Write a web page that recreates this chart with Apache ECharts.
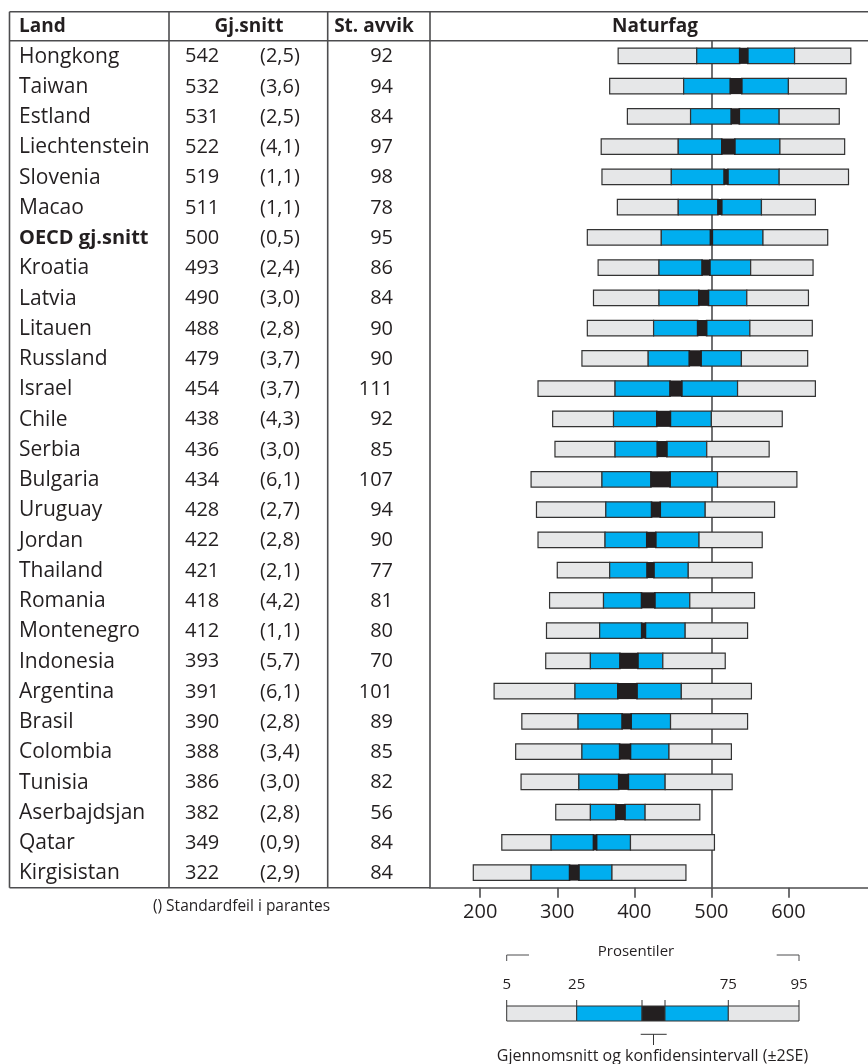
<!DOCTYPE html>
<html><head><meta charset="utf-8">
<script src="https://cdn.jsdelivr.net/npm/echarts@6/dist/echarts.min.js"></script>
<style>html,body{margin:0;padding:0;background:#fff}#c{width:868px;height:1064px}</style>
</head><body><div id="c"></div>
<script>
// ---- data ----
const countries = ['Hongkong','Taiwan','Estland','Liechtenstein','Slovenia','Macao','OECD gj.snitt','Kroatia','Latvia','Litauen','Russland','Israel','Chile','Serbia','Bulgaria','Uruguay','Jordan','Thailand','Romania','Montenegro','Indonesia','Argentina','Brasil','Colombia','Tunisia','Aserbajdsjan','Qatar','Kirgisistan'];
const means = [542,532,531,522,519,511,500,493,490,488,479,454,438,436,434,428,422,421,418,412,393,391,390,388,386,382,349,322];
const stdErr = [2.5,3.6,2.5,4.1,1.1,1.1,0.5,2.4,3.0,2.8,3.7,3.7,4.3,3.0,6.1,2.7,2.8,2.1,4.2,1.1,5.7,6.1,2.8,3.4,3.0,2.8,0.9,2.9];
const stdDev = [92,94,84,97,98,78,95,86,84,90,90,111,92,85,107,94,90,77,81,80,70,101,89,85,82,56,84,84];
const p5  = [379,368,391,357,358,378,339,353,347,339,332,275,294,297,266,273,275,300,290,286,285,218,254,246,253,298,228,191];
const p25 = [481,464,473,457,448,457,435,432,432,425,418,375,373,375,358,363,362,368,360,355,343,323,327,332,328,343,292,266];
const p75 = [608,600,588,589,588,565,567,551,546,550,539,534,500,494,508,492,484,470,472,466,437,461,447,445,440,414,395,371];
const p95 = [681,675,666,673,678,635,651,632,626,631,625,635,592,575,611,582,566,553,556,547,518,552,547,526,527,485,504,467];
const ticks = [200,300,400,500,600];
const boldRow = 'OECD gj.snitt';

// ---- styles ----
const FONT = 'Open Sans';
const TXT = '#231f20';
const LINE = '#4d4d4f';
const GREY = '#e6e7e8', BLUE = '#00aeef', BLACK = '#231f20', EDGE = '#333333';

const fmt = v => '(' + v.toFixed(1).replace('.', ',') + ')';

const barData = countries.map((c, i) => [i, p5[i], p25[i], means[i] - 2 * stdErr[i], means[i] + 2 * stdErr[i], p75[i], p95[i]]);
const tableData = countries.map((c, i) => [i]);

const chart = echarts.init(document.getElementById('c'), null, {renderer: 'canvas'});

function seg(x0, x1, y, h, fill, stroke, lw) {
  return {type: 'rect', shape: {x: x0, y: y - h / 2, width: x1 - x0, height: h},
    style: {fill: fill, stroke: stroke, lineWidth: lw}};
}

const graphics = [];
// table frame
const L = 9.5, R = 868, T = 11.7, HB = 40.7, B = 887.7;
const cols = [169, 327.7, 430];
graphics.push({type: 'line', shape: {x1: L, y1: T, x2: R, y2: T}, style: {stroke: LINE, lineWidth: 1.6}});
graphics.push({type: 'line', shape: {x1: L, y1: HB, x2: R, y2: HB}, style: {stroke: LINE, lineWidth: 1.6}});
graphics.push({type: 'line', shape: {x1: L, y1: T, x2: L, y2: B}, style: {stroke: LINE, lineWidth: 1.6}});
graphics.push({type: 'line', shape: {x1: L, y1: B, x2: 430, y2: B}, style: {stroke: LINE, lineWidth: 1.6}});
cols.forEach(x => graphics.push({type: 'line', shape: {x1: x, y1: T, x2: x, y2: B}, style: {stroke: LINE, lineWidth: 1.6}}));
// headers
const hy = 26.5;
[['Land', 19, 'left'], ['Gj.snitt', 249, 'center'], ['St. avvik', 374, 'center'], ['Naturfag', 655, 'center']].forEach(h => {
  graphics.push({type: 'text', x: h[1], y: hy, style: {text: h[0], fill: TXT, font: 'bold 19px "' + FONT + '"', textAlign: h[2], textVerticalAlign: 'middle'}});
});
// footnote
graphics.push({type: 'text', x: 241.5, y: 906.5, style: {text: '() Standardfeil i parantes', fill: TXT, font: '15.5px "' + FONT + '"', textAlign: 'center', textVerticalAlign: 'middle'}});
// legend key
const lg = {x5: 506.7, x25: 576.7, xl: 642, xh: 665, x75: 728.3, x95: 799, y: 1006, h: 15};
graphics.push({type: 'text', x: 636, y: 951.5, style: {text: 'Prosentiler', fill: TXT, font: '15px "' + FONT + '"', textAlign: 'center', textVerticalAlign: 'middle'}});
graphics.push({type: 'polyline', shape: {points: [[lg.x5, 961], [lg.x5, 955], [529, 955]]}, style: {stroke: LINE, lineWidth: 1, fill: null}});
graphics.push({type: 'polyline', shape: {points: [[776.7, 955], [lg.x95, 955], [lg.x95, 961]]}, style: {stroke: LINE, lineWidth: 1, fill: null}});
[['5', lg.x5], ['25', lg.x25], ['75', lg.x75], ['95', lg.x95]].forEach(t => {
  graphics.push({type: 'text', x: t[1], y: 985, style: {text: t[0], fill: TXT, font: '15px "' + FONT + '"', textAlign: 'center', textVerticalAlign: 'middle'}});
});
[[lg.x5, lg.x25, GREY], [lg.x25, lg.xl, BLUE], [lg.xl, lg.xh, BLACK], [lg.xh, lg.x75, BLUE], [lg.x75, lg.x95, GREY]].forEach(s => {
  graphics.push({type: 'rect', shape: {x: s[0], y: lg.y, width: s[1] - s[0], height: lg.h}, style: {fill: s[2], stroke: EDGE, lineWidth: 1}});
});
[lg.x5, lg.x25, lg.xl, lg.xh, lg.x75, lg.x95].forEach(x => {
  graphics.push({type: 'line', shape: {x1: x, y1: 1000, x2: x, y2: lg.y}, style: {stroke: EDGE, lineWidth: 1}});
});
graphics.push({type: 'line', shape: {x1: 640.7, y1: 1034.3, x2: 666.7, y2: 1034.3}, style: {stroke: EDGE, lineWidth: 1}});
graphics.push({type: 'line', shape: {x1: 653.5, y1: 1034.3, x2: 653.5, y2: 1045}, style: {stroke: EDGE, lineWidth: 1}});
graphics.push({type: 'text', x: 652.5, y: 1056.5, style: {text: 'Gjennomsnitt og konfidensintervall (±2SE)', fill: TXT, font: '16px "' + FONT + '"', textAlign: 'center', textVerticalAlign: 'middle'}});

const option = {
  animation: false,
  backgroundColor: '#fff',
  textStyle: {fontFamily: FONT},
  grid: {left: 430, right: 0, top: 40.7, bottom: 1064 - 887.7, containLabel: false},
  xAxis: {
    type: 'value', min: 134.8, max: 703.3,
    splitLine: {show: false},
    axisLine: {show: true, lineStyle: {color: LINE, width: 1.6}},
    axisTick: {show: true, customValues: ticks, length: 10, lineStyle: {color: LINE, width: 1.6}},
    axisLabel: {show: true, customValues: ticks, margin: 15, fontSize: 20, color: TXT, fontFamily: FONT}
  },
  yAxis: {
    type: 'category', data: countries, inverse: true,
    axisLine: {show: false}, axisTick: {show: false}, axisLabel: {show: false}, splitLine: {show: false}
  },
  graphic: graphics,
  series: [
    {
      type: 'line', data: [], z: 1,
      markLine: {silent: true, symbol: 'none', label: {show: false}, z: 1,
        lineStyle: {color: LINE, width: 1.6, type: 'solid'}, data: [{xAxis: 500}]}
    },
    {
      type: 'custom', z: 10, clip: false,
      encode: {y: 0, x: [1, 2, 3, 4, 5, 6]},
      data: barData,
      renderItem: function (params, api) {
        const i = api.value(0);
        const y = api.coord([api.value(1), i])[1];
        const h = 15.5;
        const xs = [1, 2, 3, 4, 5, 6].map(k => api.coord([api.value(k), i])[0]);
        return {type: 'group', children: [
          seg(xs[0], xs[1], y, h, GREY, EDGE, 1.2),
          seg(xs[1], xs[2], y, h, BLUE, EDGE, 1.2),
          seg(xs[3], xs[4], y, h, BLUE, EDGE, 1.2),
          seg(xs[4], xs[5], y, h, GREY, EDGE, 1.2),
          seg(xs[2] - 1, xs[3] + 1, y, h + 0.6, BLACK, null, 0)
        ]};
      }
    },
    {
      type: 'custom', z: 10, clip: false,
      encode: {y: 0},
      data: tableData,
      renderItem: function (params, api) {
        const i = api.value(0);
        const y = api.coord([300, i])[1] + 0.8;
        const bold = countries[i] === boldRow;
        const f = (bold ? 'bold 20px "' : '21px "') + FONT + '"';
        const t = (txt, x, al, font) => ({type: 'text', x: x, y: y, style: {text: txt, fill: TXT, font: font || ('20px "' + FONT + '"'), textAlign: al, textVerticalAlign: 'middle'}});
        return {type: 'group', children: [
          t(countries[i], 19, 'left', f),
          t(String(means[i]), 185, 'left'),
          t(fmt(stdErr[i]), 260, 'left'),
          t(String(stdDev[i]), 393, 'right')
        ]};
      }
    }
  ]
};
chart.setOption(option);
</script>
</body></html>
